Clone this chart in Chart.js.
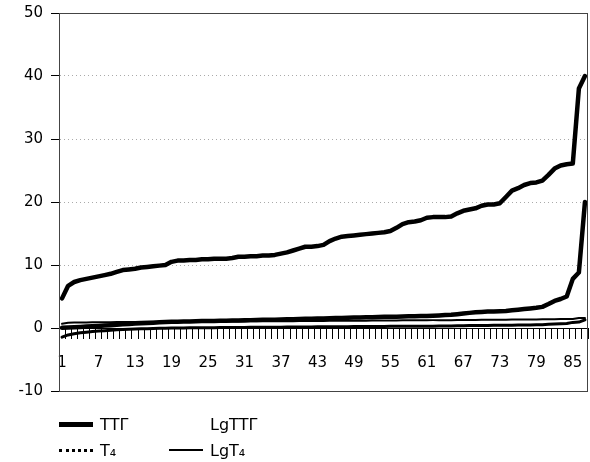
<!DOCTYPE html>
<html lang="ru">
<head>
  <meta charset="UTF-8" />
  <title>ТТГ, T4</title>
  <script src="https://cdn.jsdelivr.net/npm/chart.js"></script>
  <style>
    body {
      margin: 0;
      background: #fff;
      font-family: 'DejaVu Sans', sans-serif;
    }
    .wrap {
      position: relative;
      width: 590px;
      height: 462px;
    }
    .legend {
      position: absolute;
      left: 59px;
      top: 414px;
      display: grid;
      grid-template-columns: 110px 110px;
      row-gap: 6px;
      font-size: 16px;
      color: #000;
    }
    .legend .item {
      display: flex;
      align-items: center;
      height: 20px;
    }
    .legend .swatch {
      display: inline-block;
      width: 34px;
      margin-right: 7px;
    }
  </style>
</head>
<body>
  <div class="wrap">
    <canvas id="chart" width="590" height="462"></canvas>
    <div class="legend" id="legend"></div>
  </div>

  <script>
    // sorted patient values, 87 cases
    const categories = Array.from({ length: 87 }, (_, i) => String(i + 1));

    const t4 = [
      4.7, 6.7, 7.3, 7.6, 7.8, 8.0, 8.2, 8.4, 8.6, 8.9,
      9.2, 9.3, 9.4, 9.6, 9.7, 9.8, 9.9, 10.0, 10.5, 10.7,
      10.7, 10.8, 10.8, 10.9, 10.9, 11.0, 11.0, 11.0, 11.1, 11.3,
      11.3, 11.4, 11.4, 11.5, 11.5, 11.6, 11.8, 12.0, 12.3, 12.6,
      12.9, 12.9, 13.0, 13.2, 13.8, 14.2, 14.5, 14.6, 14.7, 14.8,
      14.9, 15.0, 15.1, 15.2, 15.4, 15.9, 16.5, 16.8, 16.9, 17.1,
      17.5, 17.6, 17.6, 17.6, 17.7, 18.2, 18.6, 18.8, 19.0, 19.4,
      19.6, 19.6, 19.8, 20.8, 21.8, 22.2, 22.7, 23.0, 23.1, 23.4,
      24.3, 25.3, 25.8, 26.0, 26.1, 38.0, 40.0
    ];

    const ttg = [
      0.035, 0.08, 0.12, 0.17, 0.22, 0.28, 0.33, 0.38, 0.45, 0.52,
      0.58, 0.64, 0.70, 0.75, 0.80, 0.85, 0.90, 0.95, 1.00, 1.00,
      1.02, 1.05, 1.07, 1.10, 1.10, 1.12, 1.15, 1.17, 1.20, 1.20,
      1.22, 1.25, 1.27, 1.30, 1.30, 1.32, 1.35, 1.38, 1.40, 1.42,
      1.45, 1.47, 1.50, 1.52, 1.55, 1.57, 1.60, 1.62, 1.65, 1.67,
      1.70, 1.72, 1.75, 1.77, 1.80, 1.80, 1.82, 1.85, 1.87, 1.90,
      1.92, 1.95, 2.00, 2.05, 2.10, 2.20, 2.30, 2.40, 2.50, 2.55,
      2.60, 2.62, 2.65, 2.70, 2.80, 2.90, 3.00, 3.10, 3.20, 3.35,
      3.80, 4.30, 4.60, 5.00, 7.80, 8.80, 20.0
    ];

    const lgTtg = [
      -1.46, -1.10, -0.92, -0.77, -0.66, -0.55, -0.48, -0.42, -0.35, -0.28,
      -0.24, -0.19, -0.15, -0.12, -0.10, -0.07, -0.05, -0.02, 0.00, 0.00,
      0.01, 0.02, 0.03, 0.04, 0.04, 0.05, 0.06, 0.07, 0.08, 0.08,
      0.09, 0.10, 0.10, 0.11, 0.11, 0.12, 0.13, 0.14, 0.15, 0.15,
      0.16, 0.17, 0.18, 0.18, 0.19, 0.20, 0.20, 0.21, 0.22, 0.22,
      0.23, 0.24, 0.24, 0.25, 0.26, 0.26, 0.26, 0.27, 0.27, 0.28,
      0.28, 0.29, 0.30, 0.31, 0.32, 0.34, 0.36, 0.38, 0.40, 0.41,
      0.41, 0.42, 0.42, 0.43, 0.45, 0.46, 0.48, 0.49, 0.51, 0.53,
      0.58, 0.63, 0.66, 0.70, 0.89, 0.94, 1.30
    ];

    const lgT4 = [
      0.67, 0.83, 0.86, 0.88, 0.89, 0.90, 0.91, 0.92, 0.93, 0.95,
      0.96, 0.97, 0.97, 0.98, 0.99, 0.99, 1.00, 1.00, 1.02, 1.03,
      1.03, 1.03, 1.03, 1.04, 1.04, 1.04, 1.04, 1.04, 1.05, 1.05,
      1.05, 1.06, 1.06, 1.06, 1.06, 1.06, 1.07, 1.08, 1.09, 1.10,
      1.11, 1.11, 1.11, 1.12, 1.14, 1.15, 1.16, 1.16, 1.17, 1.17,
      1.17, 1.18, 1.18, 1.18, 1.19, 1.20, 1.22, 1.23, 1.23, 1.23,
      1.24, 1.25, 1.25, 1.25, 1.25, 1.26, 1.27, 1.27, 1.28, 1.29,
      1.29, 1.29, 1.30, 1.32, 1.34, 1.35, 1.36, 1.36, 1.36, 1.37,
      1.39, 1.40, 1.41, 1.41, 1.42, 1.58, 1.60
    ];

    const yTicks = [-10, 0, 10, 20, 30, 40, 50];

    const series = [
      { label: 'ТТГ', data: ttg, width: 4.5, legendWidth: 5, legendStyle: 'solid' },
      { label: 'LgТТГ', data: lgTtg, width: 3, legendWidth: 0, legendStyle: 'solid' },
      { label: 'T₄', data: t4, width: 4.5, legendWidth: 3, legendStyle: 'dotted' },
      { label: 'LgT₄', data: lgT4, width: 2, legendWidth: 2, legendStyle: 'solid' }
    ];

    // box around the plot area
    const frame = {
      id: 'frame',
      afterDraw(chart) {
        const { ctx, chartArea: a } = chart;
        ctx.save();
        ctx.strokeStyle = '#444';
        ctx.lineWidth = 1;
        ctx.strokeRect(a.left + 0.5, a.top + 0.5, a.right - a.left - 1, a.bottom - a.top);
        ctx.restore();
      }
    };

    const tickFont = { family: "'DejaVu Sans', sans-serif", size: 15 };

    new Chart(document.getElementById('chart'), {
      type: 'line',
      data: {
        labels: categories,
        datasets: series.map(s => ({
          label: s.label,
          data: s.data,
          borderColor: '#000',
          borderWidth: s.width,
          pointRadius: 0,
          tension: 0,
          borderJoinStyle: 'round',
          borderCapStyle: 'round'
        }))
      },
      options: {
        responsive: false,
        animation: false,
        layout: { padding: { left: 0, right: 2, top: 13, bottom: 71 } },
        plugins: {
          legend: { display: false },
          tooltip: { enabled: false }
        },
        scales: {
          x: {
            position: { y: 0 },
            offset: true,
            afterFit: scale => { scale.paddingLeft = 0; scale.paddingRight = 0; },
            grid: {
              offset: true,
              drawOnChartArea: false,
              tickLength: 10,
              tickColor: '#000'
            },
            border: { color: '#000', width: 1 },
            ticks: {
              autoSkip: false,
              maxRotation: 0,
              padding: 16,
              color: '#000',
              font: tickFont,
              callback: (v, i) => (i % 6 === 0 ? categories[i] : '')
            }
          },
          y: {
            min: -10,
            max: 50,
            afterFit: scale => {
              scale.width = 59;
              scale.paddingTop = 0;
              scale.paddingBottom = 0;
            },
            afterBuildTicks: scale => { scale.ticks = yTicks.map(v => ({ value: v })); },
            grid: {
              color: c => (c.tick && c.tick.value > 0 && c.tick.value < 50 ? '#aaa' : 'rgba(0,0,0,0)'),
              tickColor: '#000',
              tickLength: 8
            },
            border: { color: '#000', width: 1, dash: [1, 3] },
            ticks: {
              padding: 8,
              color: '#000',
              font: tickFont
            }
          }
        }
      },
      plugins: [frame]
    });

    // legend in two columns, like the original
    const legend = document.getElementById('legend');
    series.forEach(s => {
      const item = document.createElement('div');
      item.className = 'item';
      const sw = document.createElement('span');
      sw.className = 'swatch';
      sw.style.borderTop = s.legendWidth ? `${s.legendWidth}px ${s.legendStyle} #000` : '0';
      item.appendChild(sw);
      item.appendChild(document.createTextNode(s.label));
      legend.appendChild(item);
    });
  </script>
</body>
</html>
